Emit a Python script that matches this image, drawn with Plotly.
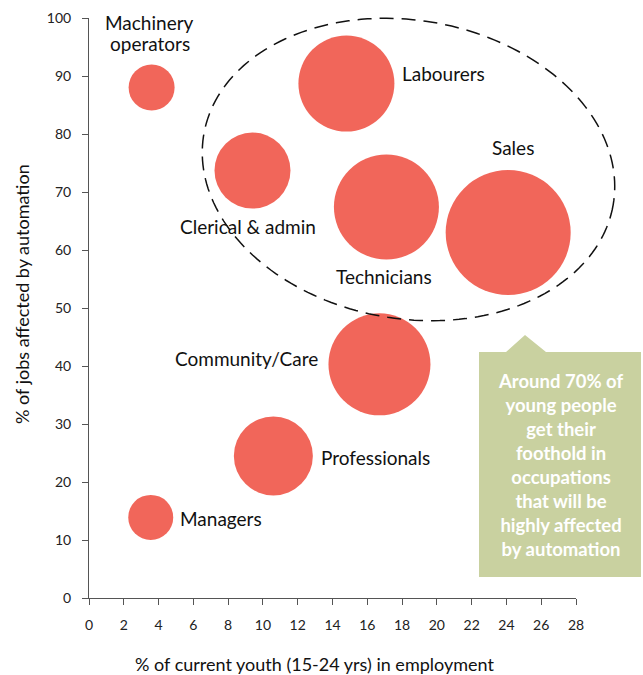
import numpy as np
import plotly.graph_objects as go

# ---- data ----
occupations = ["Machinery operators", "Labourers", "Clerical & admin", "Technicians",
               "Sales", "Community/Care", "Professionals", "Managers"]
youth_employment_pct = [3.6, 14.8, 9.4, 17.1, 24.1, 16.7, 10.6, 3.55]
automation_pct = [88.0, 88.7, 73.7, 67.4, 63.0, 40.3, 24.5, 13.9]
bubble_size = [46, 96, 76, 105, 125, 102, 79, 45]

x_ticks = list(range(0, 29, 2))
y_ticks = list(range(0, 101, 10))

callout_text = ("Around 70% of<br>young people<br>get their<br>foothold in<br>occupations"
                "<br>that will be<br>highly affected<br>by automation")

FONT = "Lato"
BUBBLE = "#F1665A"
BOX = "#C9D1A0"
LBL = 19

fig = go.Figure()
fig.add_trace(go.Scatter(
    x=youth_employment_pct, y=automation_pct, mode="markers",
    marker=dict(size=bubble_size, sizemode="diameter", sizeref=1, color=BUBBLE,
                opacity=1, line=dict(width=0)),
    hovertext=occupations, hoverinfo="text", showlegend=False,
))

# label placement (text lines, anchor, pixel offsets from bubble centre)
label_style = [
    [("Machinery", "center", -2, 65), ("operators", "center", -2, 44)],
    [("Labourers", "left", 54, 10)],
    [("Clerical & admin", "center", -4, -56)],
    [("Technicians", "center", -2, -69)],
    [("Sales", "center", 5, 85)],
    [("Community/Care", "right", -59, 6)],
    [("Professionals", "left", 46, -2)],
    [("Managers", "left", 27, -1)],
]
for xv, yv, parts in zip(youth_employment_pct, automation_pct, label_style):
    for (t, anc, dx, dy) in parts:
        fig.add_annotation(x=xv, y=yv, xref="x", yref="y", text=t, showarrow=False,
                           xanchor=anc, yanchor="middle", xshift=dx, yshift=dy,
                           font=dict(family=FONT, size=LBL, color="#111111"))

# plot-area geometry (page pixels) for paper-coordinate decorations
PL, PR, PT, PB = 89.0, 576.0, 18.0, 598.0
W, H = PR - PL, PB - PT
def px2x(p):
    return (p - PL) / W
def py2y(p):
    return (PB - p) / H

# dashed ellipse
cx, cy = px2x(408.5), py2y(169.5)
a, b, th = 207.7, 149.2, np.radians(9.8)
t = np.linspace(0, 2 * np.pi, 200)
ex = (a * np.cos(th) * np.cos(t) - b * np.sin(th) * np.sin(t)) / W + cx
ey = -(a * np.sin(th) * np.cos(t) + b * np.cos(th) * np.sin(t)) / H + cy
path = "M " + " L ".join(f"{px:.5f},{py:.5f}" for px, py in zip(ex, ey)) + " Z"
fig.add_shape(type="path", path=path, xref="paper", yref="paper",
              line=dict(color="#111111", width=1.5, dash="14px,8px"), layer="above")

# callout box with pointer
bx0, bx1, by0, by1 = px2x(479), px2x(641), py2y(577), py2y(352)
tl, ta, tr, tay = px2x(506), px2x(525), px2x(546), py2y(335)
box_path = (f"M {bx0},{by0} L {bx0},{by1} L {tl},{by1} L {ta},{tay} L {tr},{by1} "
            f"L {bx1},{by1} L {bx1},{by0} Z")
fig.add_shape(type="path", path=box_path, xref="paper", yref="paper",
              fillcolor=BOX, line=dict(width=0), layer="below")
fig.add_annotation(x=(bx0 + bx1) / 2, y=(by0 + by1) / 2, xref="paper", yref="paper",
                   text=callout_text, showarrow=False, xanchor="center", yanchor="middle",
                   align="center",
                   font=dict(family=FONT, size=18.5, color="white", weight=700))

# axis titles
fig.add_annotation(x=px2x(314), y=py2y(664), xref="paper", yref="paper",
                   text="% of current youth (15-24 yrs) in employment", showarrow=False,
                   xanchor="center", yanchor="middle",
                   font=dict(family=FONT, size=18, color="#111111"))
fig.add_annotation(x=px2x(22), y=py2y(294), xref="paper", yref="paper",
                   text="% of jobs affected by automation", showarrow=False, textangle=-90,
                   xanchor="center", yanchor="middle",
                   font=dict(family=FONT, size=18, color="#111111"))

axis_common = dict(showgrid=False, zeroline=False, showline=True, linecolor="#555555",
                   linewidth=1, ticks="outside", ticklen=6, tickcolor="#555555",
                   automargin=False,
                   tickfont=dict(family=FONT, size=14, color="#222222"))
fig.update_xaxes(range=[0, 28], tickvals=x_ticks, ticklabelstandoff=8, **axis_common)
fig.update_yaxes(range=[0, 100], tickvals=y_ticks, ticklabelstandoff=8, **axis_common)

fig.update_layout(width=643, height=675,
                  margin=dict(l=PL, r=643 - PR, t=PT, b=675 - PB),
                  plot_bgcolor="white", paper_bgcolor="white", showlegend=False)

# remove the default 8px page margin so the figure fills the window exactly
fig.write_html("out.html", config={"displayModeBar": False},
               post_script="document.body.style.margin='0';")
